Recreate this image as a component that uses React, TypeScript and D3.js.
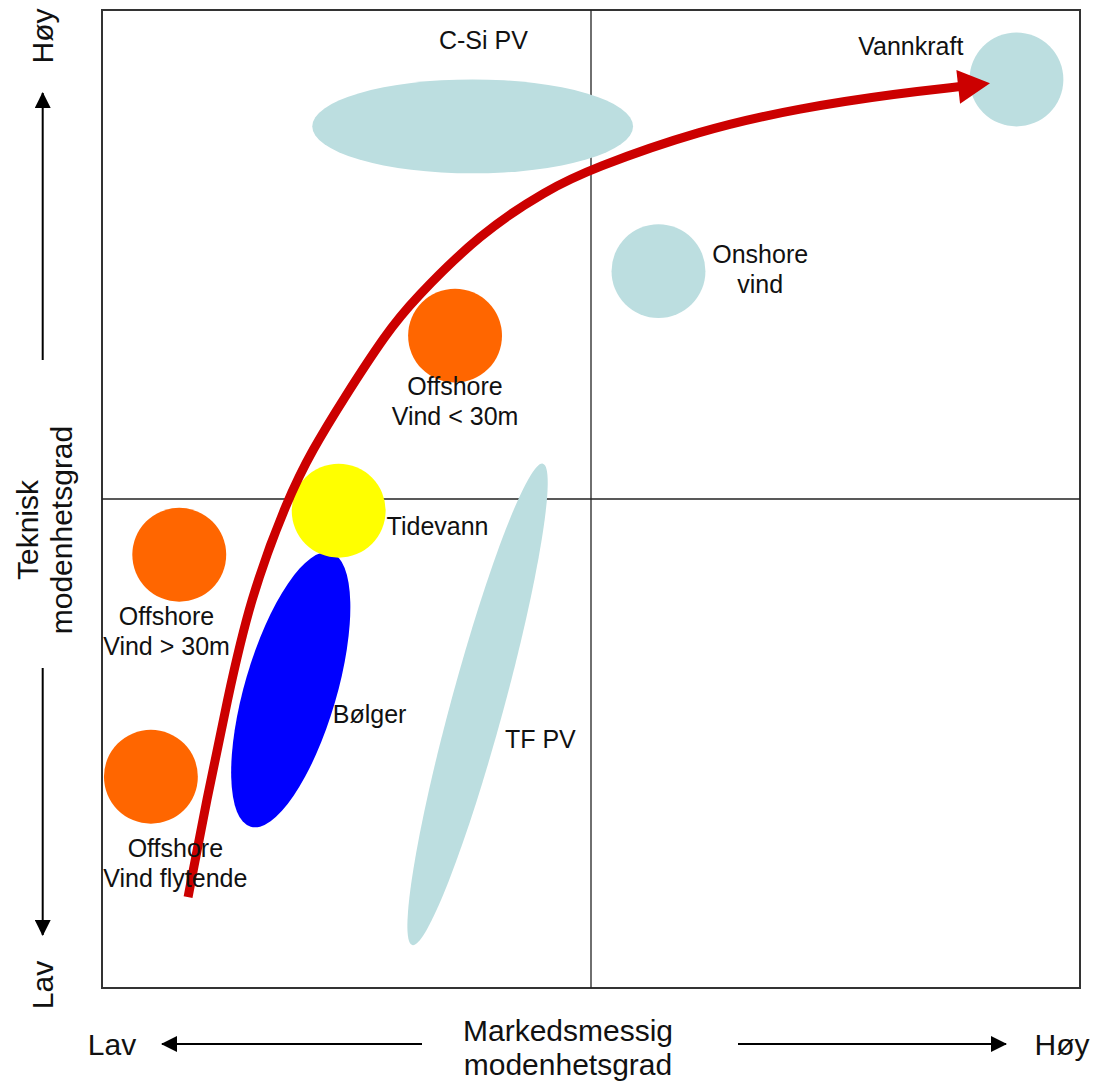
import React from "react";
import * as d3 from "d3";

// ---- Data (in chart units: 0..10 market maturity (x), 0..10 technical maturity (y)) ----
const techNames = ["Vannkraft", "Onshore vind", "Offshore Vind < 30m", "Tidevann", "Offshore Vind > 30m", "Offshore Vind flytende", "C-Si PV", "Bølger", "TF PV"];
const techX = [9.35, 5.69, 3.61, 2.42, 0.79, 0.50, 3.79, 1.93, 3.84];
const techY = [9.29, 7.33, 6.67, 4.88, 4.43, 2.16, 8.81, 3.05, 2.90];
const techSpreadX = [0.48, 0.48, 0.48, 0.48, 0.48, 0.48, 1.64, 0.47, 0.27];
const techSpreadY = [0.48, 0.48, 0.48, 0.48, 0.48, 0.48, 0.48, 1.46, 2.55];
const techTilt = [0, 0, 0, 0, 0, 0, 0, 16.3, 15.2];
const techGroup = ["mature", "mature", "offshore", "tidal", "offshore", "offshore", "mature", "wave", "mature"];

// Label lines and their anchor values (first-line baseline)
const labelLines = [["Vannkraft"], ["Onshore", "vind"], ["Offshore", "Vind < 30m"], ["Tidevann"], ["Offshore", "Vind > 30m"], ["Offshore", "Vind flytende"], ["C-Si PV"], ["Bølger"], ["TF PV"]];
const labelX = [8.27, 6.73, 3.61, 2.91, 0.66, 0.75, 3.90, 2.36, 4.12];
const labelY = [9.54, 7.41, 6.06, 4.63, 3.71, 1.34, 9.60, 2.71, 2.45];
const labelAnchor = ["middle", "middle", "middle", "start", "middle", "middle", "middle", "start", "start"];

// Development path (red arrow), last point is the arrow tip
const pathX = [0.88, 1.07, 1.28, 1.51, 1.90, 2.15, 2.46, 2.91, 3.18, 3.87, 4.55, 5.01, 6.11, 7.14, 8.16, 9.08];
const pathY = [0.93, 1.92, 2.94, 3.97, 5.01, 5.50, 6.01, 6.70, 7.03, 7.72, 8.16, 8.38, 8.77, 9.00, 9.15, 9.25];

const axisXTitle = ["Markedsmessig", "modenhetsgrad"];
const axisYTitle = ["Teknisk", "modenhetsgrad"];
const lowLabel = "Lav";
const highLabel = "Høy";

const groupColor: Record<string, string> = {
  mature: "#BCDEE0",
  offshore: "#FF6600",
  tidal: "#FFFF00",
  wave: "#0000FF",
};

export default function App() {
  const W = 1094, H = 1081;
  const left = 102, right = 1080, top = 10, bottom = 988;
  const x = d3.scaleLinear().domain([0, 10]).range([left, right]);
  const y = d3.scaleLinear().domain([0, 10]).range([bottom, top]);
  const kx = x(1) - x(0);
  const ky = y(0) - y(1);

  const font = "'Liberation Sans', Arial, sans-serif";
  const textColor = "#111";

  // arrow geometry
  const n = pathX.length;
  const tip: [number, number] = [x(pathX[n - 1]), y(pathY[n - 1])];
  const prev: [number, number] = [x(pathX[n - 2]), y(pathY[n - 2])];
  const dx = tip[0] - prev[0], dy = tip[1] - prev[1];
  const len = Math.hypot(dx, dy);
  const ux = dx / len, uy = dy / len;
  const headLen = 32, headHalf = 17;
  const base: [number, number] = [tip[0] - ux * headLen, tip[1] - uy * headLen];
  const shaftPts: [number, number][] = pathX.slice(0, n - 1).map((v, i) => [x(v), y(pathY[i])] as [number, number]);
  shaftPts.push([base[0] + ux * 2, base[1] + uy * 2]);
  const line = d3.line().curve(d3.curveBasis);
  const head = [
    tip,
    [base[0] - uy * headHalf, base[1] + ux * headHalf],
    [base[0] + uy * headHalf, base[1] - ux * headHalf],
  ];

  const midX = x(5), midY = y(5);

  const order = [6, 8, 0, 1, 2, 4, 5, 7, 3];

  return (
    <svg width={W} height={H} style={{ position: "absolute", left: 0, top: 0, background: "#fff" }}>
      <defs>
        <marker id="ahs" viewBox="0 0 16 16" refX="15" refY="8" markerWidth="16" markerHeight="16" orient="auto-start-reverse" markerUnits="userSpaceOnUse">
          <path d="M0,0 L16,8 L0,16 z" fill="#000" />
        </marker>
      </defs>
      {/* frame */}
      <rect x={left} y={top} width={right - left} height={bottom - top} fill="#fff" stroke="#333" strokeWidth={2} />
      {/* quadrant lines */}
      <line x1={midX} x2={midX} y1={top} y2={bottom} stroke="#222" strokeWidth={1.3} />
      <line x1={left} x2={right} y1={midY} y2={midY} stroke="#222" strokeWidth={1.3} />

      {/* technology blobs */}
      {order.map((i) => (
        <ellipse
          key={techNames[i]}
          cx={0}
          cy={0}
          rx={techSpreadX[i] * kx}
          ry={techSpreadY[i] * ky}
          fill={groupColor[techGroup[i]]}
          transform={`translate(${x(techX[i])},${y(techY[i])}) rotate(${techTilt[i]})`}
        />
      ))}

      {/* development arrow */}
      <path d={line(shaftPts) || ""} fill="none" stroke="#CC0000" strokeWidth={9} strokeLinecap="butt" />
      <polygon points={head.map((p) => p.join(",")).join(" ")} fill="#CC0000" />

      {/* labels */}
      {labelLines.map((lines, i) => (
        <text
          key={"l" + i}
          x={x(labelX[i])}
          y={y(labelY[i])}
          textAnchor={labelAnchor[i] as any}
          fontFamily={font}
          fontSize={25}
          fill={textColor}
        >
          {lines.map((t, j) => (
            <tspan key={j} x={x(labelX[i])} dy={j === 0 ? 0 : 30}>
              {t}
            </tspan>
          ))}
        </text>
      ))}

      {/* y axis annotations */}
      <text transform={`translate(53,36) rotate(-90)`} textAnchor="middle" fontFamily={font} fontSize={30} fill={textColor}>{highLabel}</text>
      <line x1={42.7} x2={42.7} y1={360} y2={93} stroke="#000" strokeWidth={2} markerEnd="url(#ahs)" />
      <text transform={`translate(38,530) rotate(-90)`} textAnchor="middle" fontFamily={font} fontSize={30} fill={textColor}>{axisYTitle[0]}</text>
      <text transform={`translate(72,530) rotate(-90)`} textAnchor="middle" fontFamily={font} fontSize={30} fill={textColor}>{axisYTitle[1]}</text>
      <line x1={42.7} x2={42.7} y1={668} y2={935} stroke="#000" strokeWidth={2} markerEnd="url(#ahs)" />
      <text transform={`translate(53,985) rotate(-90)`} textAnchor="middle" fontFamily={font} fontSize={30} fill={textColor}>{lowLabel}</text>

      {/* x axis annotations */}
      <text x={112} y={1055} textAnchor="middle" fontFamily={font} fontSize={30} fill={textColor}>{lowLabel}</text>
      <line x1={422} x2={162} y1={1044} y2={1044} stroke="#000" strokeWidth={2} markerEnd="url(#ahs)" />
      <text x={568} y={1041} textAnchor="middle" fontFamily={font} fontSize={30} fill={textColor}>{axisXTitle[0]}</text>
      <text x={568} y={1075} textAnchor="middle" fontFamily={font} fontSize={30} fill={textColor}>{axisXTitle[1]}</text>
      <line x1={738} x2={1006} y1={1044} y2={1044} stroke="#000" strokeWidth={2} markerEnd="url(#ahs)" />
      <text x={1062} y={1055} textAnchor="middle" fontFamily={font} fontSize={30} fill={textColor}>{highLabel}</text>
    </svg>
  );
}
